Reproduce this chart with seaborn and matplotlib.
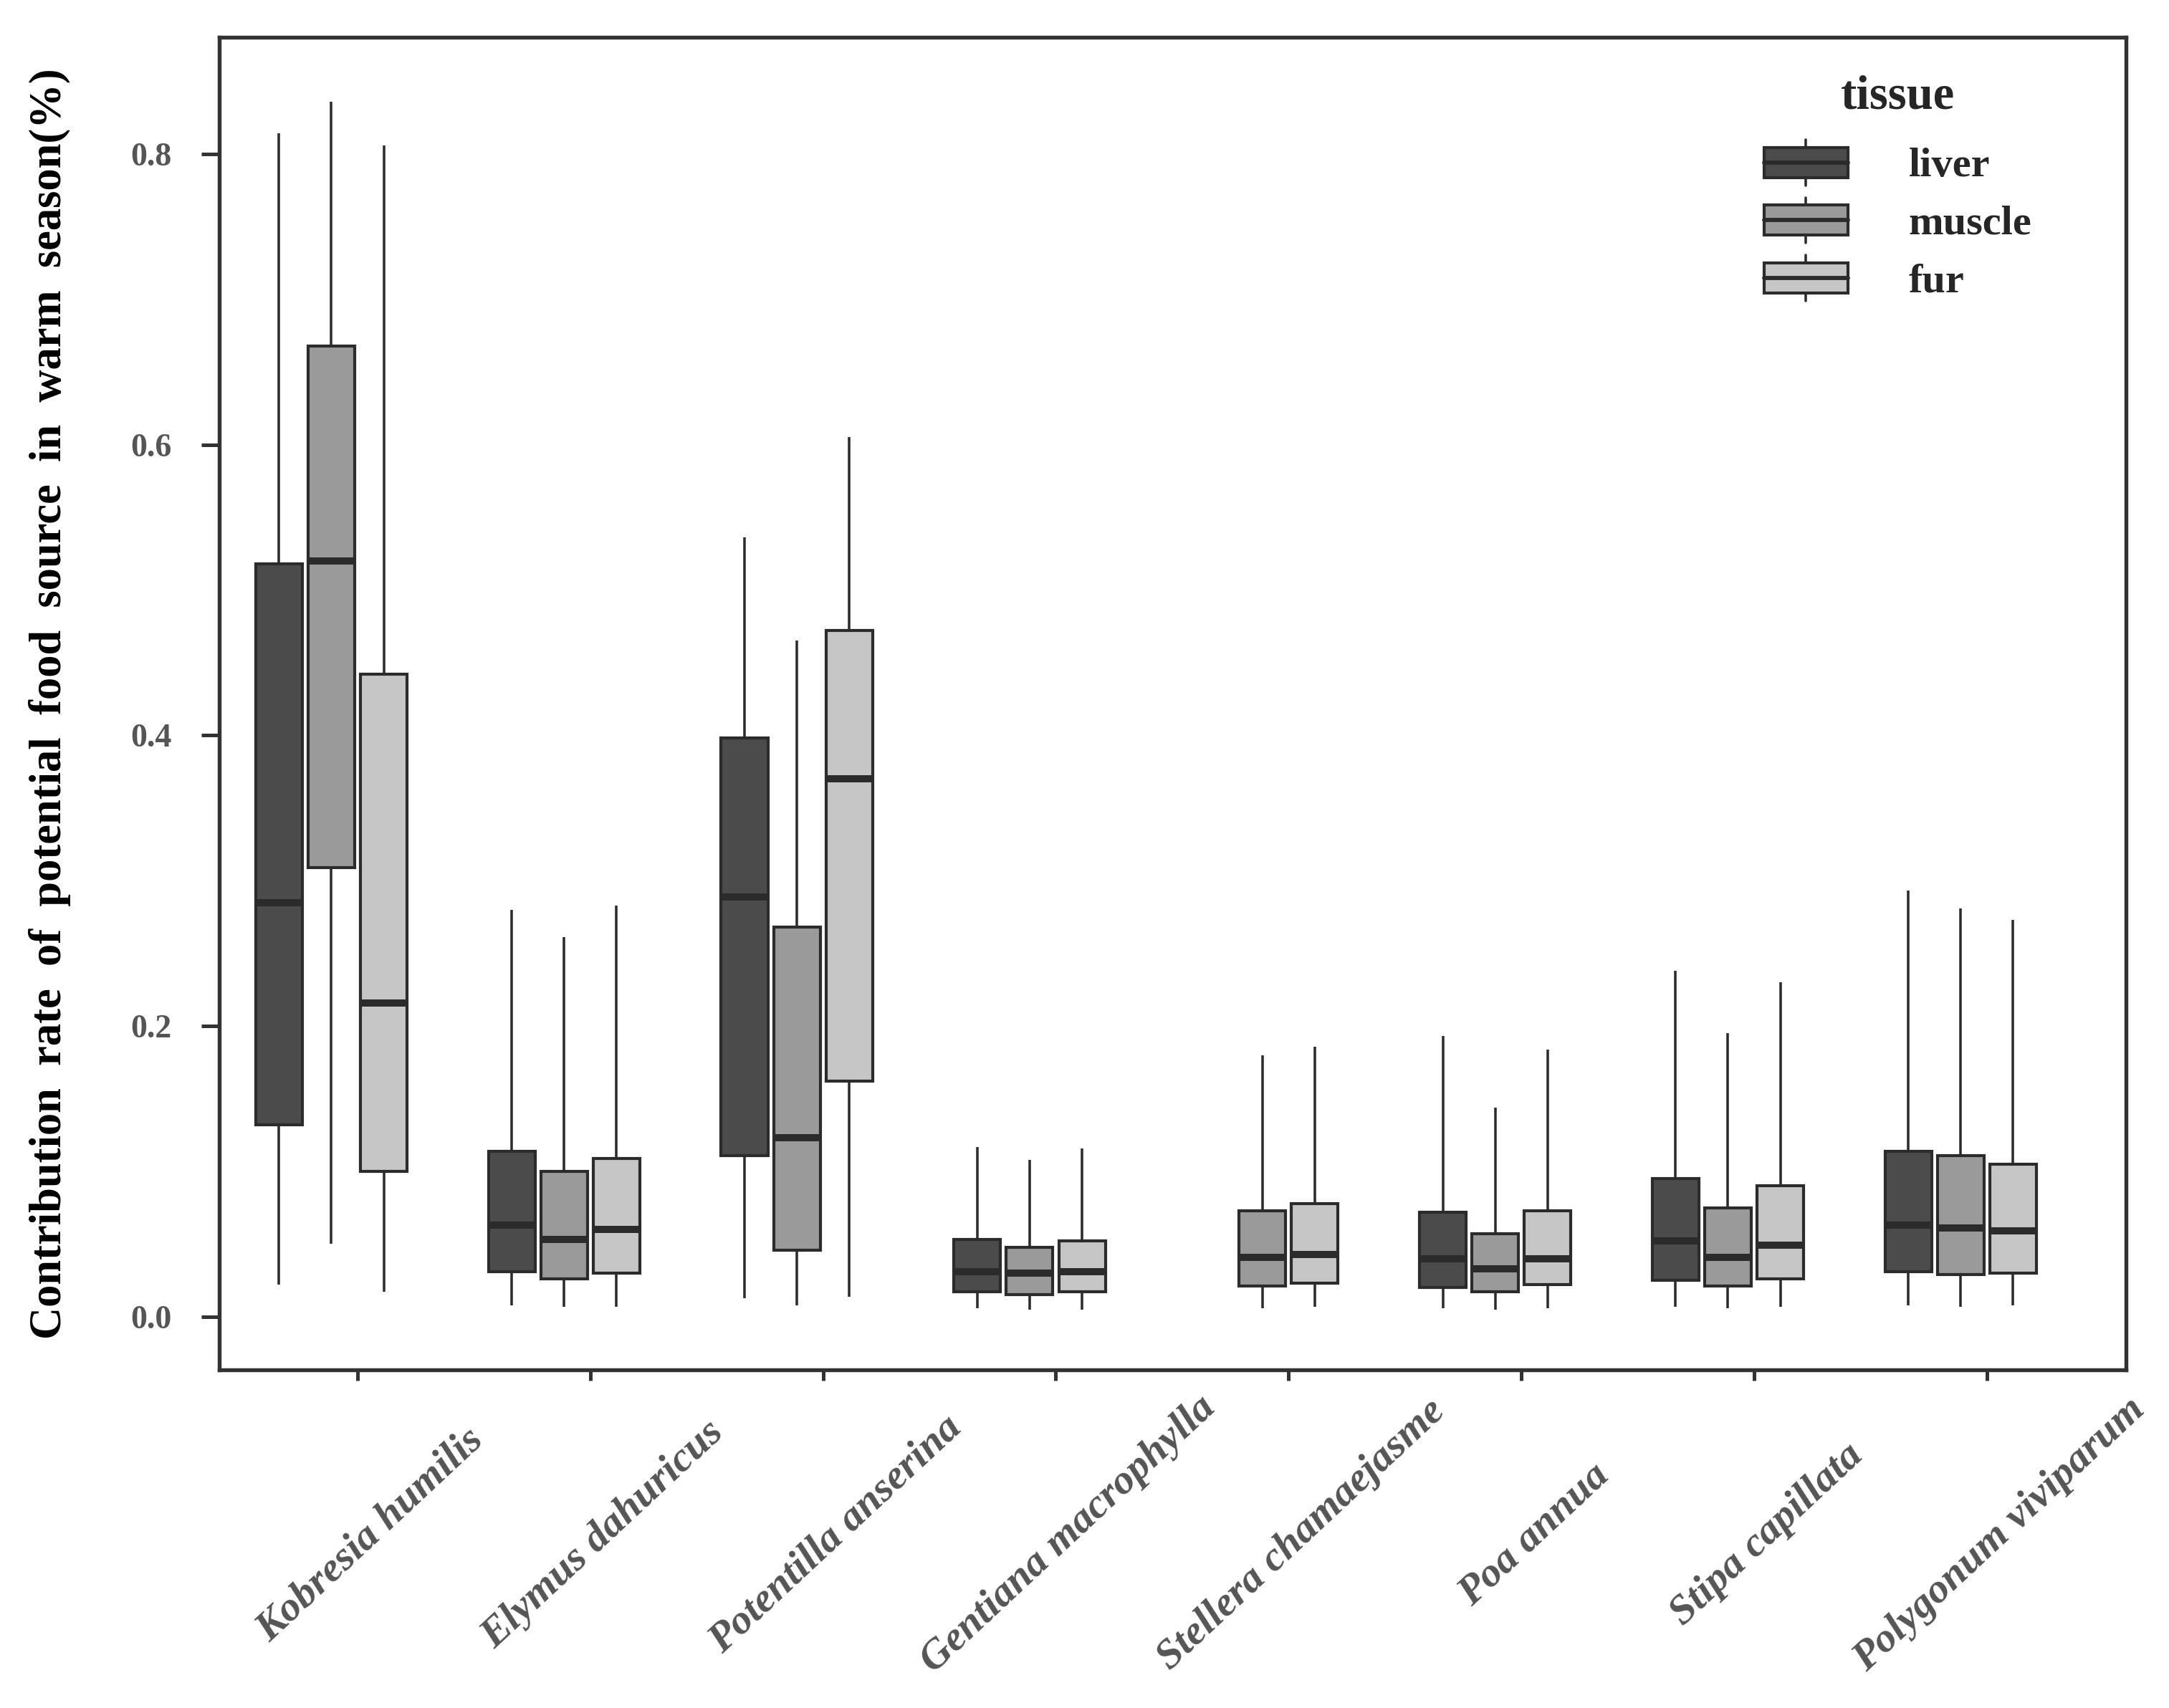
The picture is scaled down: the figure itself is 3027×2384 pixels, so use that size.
import numpy as np
import pandas as pd
import seaborn as sns
import matplotlib
matplotlib.use("Agg")
import matplotlib.pyplot as plt
from matplotlib.patches import Rectangle, Patch
from matplotlib.lines import Line2D
from matplotlib.legend_handler import HandlerBase
from matplotlib.transforms import ScaledTranslation

# ---------------- data (five-number summaries) ----------------
species = ["Kobresia humilis", "Elymus dahuricus", "Potentilla anserina",
           "Gentiana macrophylla", "Stellera chamaejasme", "Poa annua",
           "Stipa capillata", "Polygonum viviparum"]
tissues = ["liver", "muscle", "fur"]

# [min, q1, median, q3, max] per species (None = not present)
liver = [[0.022, 0.132, 0.285, 0.518, 0.814],
         [0.008, 0.031, 0.063, 0.114, 0.280],
         [0.013, 0.111, 0.289, 0.398, 0.536],
         [0.006, 0.017, 0.031, 0.053, 0.117],
         None,
         [0.006, 0.020, 0.040, 0.072, 0.193],
         [0.007, 0.025, 0.052, 0.095, 0.238],
         [0.008, 0.031, 0.063, 0.114, 0.293]]
muscle = [[0.050, 0.309, 0.520, 0.668, 0.836],
          [0.007, 0.026, 0.053, 0.100, 0.261],
          [0.008, 0.046, 0.123, 0.268, 0.465],
          [0.005, 0.015, 0.030, 0.048, 0.108],
          [0.006, 0.021, 0.041, 0.073, 0.180],
          [0.005, 0.017, 0.033, 0.057, 0.144],
          [0.006, 0.021, 0.041, 0.075, 0.195],
          [0.007, 0.029, 0.061, 0.111, 0.281]]
fur = [[0.017, 0.100, 0.216, 0.442, 0.806],
       [0.007, 0.030, 0.060, 0.109, 0.283],
       [0.014, 0.162, 0.370, 0.472, 0.605],
       [0.005, 0.017, 0.031, 0.052, 0.116],
       [0.007, 0.023, 0.043, 0.078, 0.186],
       [0.006, 0.022, 0.040, 0.073, 0.184],
       [0.007, 0.026, 0.049, 0.090, 0.230],
       [0.008, 0.030, 0.059, 0.105, 0.273]]

yticks = [0.0, 0.2, 0.4, 0.6, 0.8]
ytick_labels = ["0.0", "0.2", "0.4", "0.6", "0.8"]
ylabel = "Contribution  rate  of  potential  food  source  in  warm  season(%)"
legend_title = "tissue"

colors = {"liver": "#4b4b4b", "muscle": "#9a9a9a", "fur": "#c6c6c6"}
EDGE = "#2b2b2b"

# ---------------- build long table ----------------
series = {"liver": liver, "muscle": muscle, "fur": fur}
rows = []
for t in tissues:
    for sp, stats in zip(species, series[t]):
        if stats is None:
            continue
        for v in stats:
            rows.append((sp, t, v))
df = pd.DataFrame(rows, columns=["species", "tissue", "value"])

# ---------------- style ----------------
sns.set_theme(style="ticks")
plt.rcParams["font.family"] = ["Liberation Serif", "DejaVu Serif"]

fig = plt.figure(figsize=(3027 / 300, 2384 / 300), dpi=300)
ax = fig.add_axes([0.1011, 0.198, 0.9802 - 0.1011, 0.978 - 0.198])

W = 0.675
sns.boxplot(data=df, x="species", y="value", hue="tissue", order=species,
            hue_order=tissues, palette=colors, width=W, gap=0.11,
            whis=(0, 100), showcaps=False, saturation=1,
            linewidth=1.0, linecolor=EDGE, fliersize=0,
            medianprops=dict(color=EDGE, linewidth=2.4),
            whiskerprops=dict(color=EDGE, linewidth=0.85),
            boxprops=dict(edgecolor=EDGE, linewidth=1.0),
            legend=False, ax=ax)

# ticks sit between the muscle and fur boxes, as in the original
shift = W / 6
ax.set_xlim(-0.594 + shift, 7.598 + shift)
ax.set_ylim(-0.0365, 0.880)

# axes spines
for s in ax.spines.values():
    s.set_visible(True)
    s.set_color("#333333")
    s.set_linewidth(1.3)

# y axis
ax.set_yticks(yticks)
ax.set_yticklabels(ytick_labels, fontsize=11, fontweight="bold", color="#555555")
ax.tick_params(axis="y", length=6, width=1.2, color="#333333", pad=10)
ax.set_ylabel(ylabel, fontsize=15.0, fontweight="bold", color="black", labelpad=20)

# x axis
ax.set_xticks(np.arange(len(species)) + shift)
ax.set_xticklabels(species, rotation=43, ha="center", va="center",
                   fontsize=14, fontweight="bold", fontstyle="italic",
                   color="#555555")
ax.tick_params(axis="x", length=3.6, width=1.2, color="#333333", pad=51.6)
ax.set_xlabel("")
offset = ScaledTranslation(4.3 / 72, 0, fig.dpi_scale_trans)
for lab in ax.get_xticklabels():
    lab.set_transform(lab.get_transform() + offset)


# ---------------- legend with box-shaped handles ----------------
class BoxHandler(HandlerBase):
    def create_artists(self, legend, orig_handle, xdescent, ydescent,
                       width, height, fontsize, trans):
        fc = orig_handle.get_facecolor()
        x0, y0 = -xdescent, -ydescent
        bh = height * 0.66
        by = y0 + (height - bh) / 2
        cx = x0 + width / 2
        rect = Rectangle((x0, by), width, bh, facecolor=fc, edgecolor=EDGE,
                         linewidth=1.0, transform=trans)
        med = Line2D([x0, x0 + width], [by + bh / 2] * 2, color=EDGE,
                     linewidth=1.4, transform=trans)
        w_top = Line2D([cx, cx], [by + bh, y0 + height], color=EDGE,
                       linewidth=0.85, transform=trans)
        w_bot = Line2D([cx, cx], [y0, by], color=EDGE, linewidth=0.85,
                       transform=trans)
        return [w_top, w_bot, rect, med]


handles = [Patch(facecolor=colors[t], label=t) for t in tissues]
leg = ax.legend(handles=handles, labels=tissues, title=legend_title,
                loc="upper left", bbox_to_anchor=(0.8134, 0.956),
                bbox_transform=fig.transFigure, frameon=False,
                borderpad=0, borderaxespad=0,
                prop=dict(weight="bold", size=14),
                title_fontproperties=dict(weight="bold", size=16),
                handlelength=2.0, handleheight=1.3, handletextpad=1.45,
                labelspacing=0.29,
                handler_map={Patch: BoxHandler()})
leg._legend_box.sep = 7

fig.savefig("out.png", dpi=300)
